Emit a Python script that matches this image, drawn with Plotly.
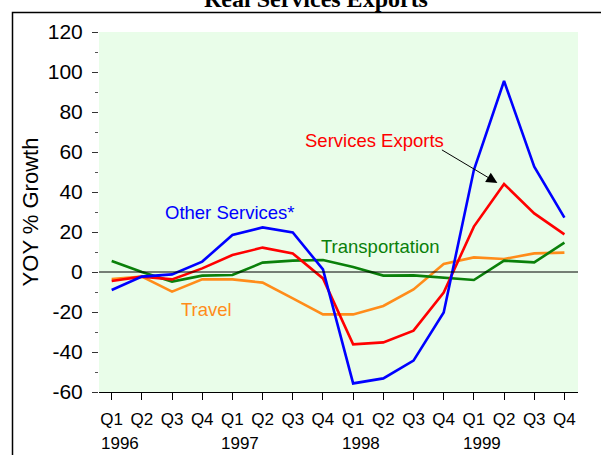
import plotly.graph_objects as go

quarters = ["Q1", "Q2", "Q3", "Q4"] * 4
years = ["1996", "1997", "1998", "1999"]
y_tick_vals = [-60, -40, -20, 0, 20, 40, 60, 80, 100, 120]
y_tick_text = ["-60", "-40", "-20", "0", "20", "40", "60", "80", "100", "120"]

other_services = [-9.0, -2.3, -1.2, 5.2, 18.5, 22.3, 19.8, 1.3,
                  -55.7, -53.2, -44.3, -20.2, 51.0, 95.5, 52.7, 27.2]
services_exports = [-4.5, -2.3, -3.7, 1.8, 8.5, 12.2, 9.3, -3.2,
                    -36.2, -35.2, -29.3, -10.3, 22.7, 44.0, 29.3, 18.8]
transportation = [5.5, 0.0, -4.8, -1.8, -1.5, 4.7, 5.7, 6.0,
                  2.5, -1.8, -1.7, -2.7, -4.0, 5.7, 4.8, 14.7]
travel = [-3.5, -2.3, -9.8, -3.7, -3.7, -5.3, -13.2, -21.2,
          -21.2, -17.0, -8.7, 4.0, 7.3, 6.5, 9.3, 9.7]

series = [
    ("Travel", travel, "#FF8C1A"),
    ("Transportation", transportation, "#0A800A"),
    ("Services Exports", services_exports, "#FF0000"),
    ("Other Services*", other_services, "#0000FF"),
]

xs = list(range(len(quarters)))
fig = go.Figure()
for name, vals, col in series:
    fig.add_trace(go.Scatter(x=xs, y=vals, mode="lines", name=name,
                             line=dict(color=col, width=2.6), showlegend=False))

W, H = 601, 455
L, R, T, B = 99, 23, 32, 63
pw, ph = W - L - R, H - T - B

def px(xpix):
    return (xpix - L) / pw

def py(ypix):
    return (H - B - ypix) / ph

fig.update_layout(
    width=W, height=H,
    margin=dict(l=L, r=R, t=T, b=B),
    paper_bgcolor="white",
    plot_bgcolor="#E9FDE9",
    font=dict(family="Liberation Sans, Arial, sans-serif", color="black"),
    xaxis=dict(
        range=[-0.42, 15.45], tickmode="array", tickvals=xs, ticktext=quarters,
        showgrid=False, zeroline=False, showline=True, linecolor="black", linewidth=1,
        ticks="outside", ticklen=7, tickcolor="black", tickfont=dict(size=17),
        ticklabelstandoff=5,
    ),
    yaxis=dict(
        range=[-60, 120], tickmode="array", tickvals=y_tick_vals, ticktext=y_tick_text,
        showgrid=False, zeroline=False, showline=False,
        ticks="outside", ticklen=6, tickcolor="#333", tickfont=dict(size=21),
        ticklabelstandoff=5,
        minor=dict(ticks="outside", ticklen=3, dtick=10, tick0=0, tickcolor="#555", showgrid=False),
        title=dict(text="YOY % Growth", font=dict(size=22), standoff=3),
    ),
)

# zero line
fig.add_shape(type="line", xref="paper", yref="y", x0=0, x1=1, y0=0, y1=0,
              line=dict(color="black", width=1))
# outer frame
fig.add_shape(type="rect", xref="paper", yref="paper",
              x0=px(12.5), x1=1.6, y0=-0.6, y1=py(12.5),
              line=dict(color="black", width=1.5), fillcolor="rgba(0,0,0,0)")

# title (cut off at top)
fig.add_annotation(text="<b>Real Services Exports</b>", xref="paper", yref="paper",
                   x=px(316), y=py(-1), xanchor="center", yanchor="middle", showarrow=False,
                   font=dict(family="Liberation Serif, Times New Roman, serif", size=24, color="black"))

# year labels
for i, yr in enumerate(years):
    fig.add_annotation(text=yr, xref="x", yref="paper", x=i * 4, y=py(443),
                       xanchor="left", yanchor="middle", xshift=-13, showarrow=False,
                       font=dict(size=17, color="black"))

# series labels
labels = [
    ("Other Services*", 3.92, 30, "#0000FF"),
    ("Transportation", 8.9, 13, "#0A800A"),
    ("Travel", 3.13, -18.5, "#FF8C1A"),
    ("Services Exports", 8.7, 66, "#FF0000"),
]
for txt, x, y, col in labels:
    fig.add_annotation(text=txt, x=x, y=y, xref="x", yref="y", showarrow=False,
                       xanchor="center", yanchor="middle", font=dict(size=18.5, color=col))

# arrow to Services Exports peak
fig.add_annotation(text="", x=(497 - 111.7) / 30.15, y=(272 - 183) / 2, xref="x", yref="y",
                   showarrow=True, ax=-57, ay=-34, axref="pixel", ayref="pixel",
                   arrowhead=2, arrowsize=2.2, arrowwidth=1, arrowcolor="black", standoff=0)

fig.write_html("out.html")
